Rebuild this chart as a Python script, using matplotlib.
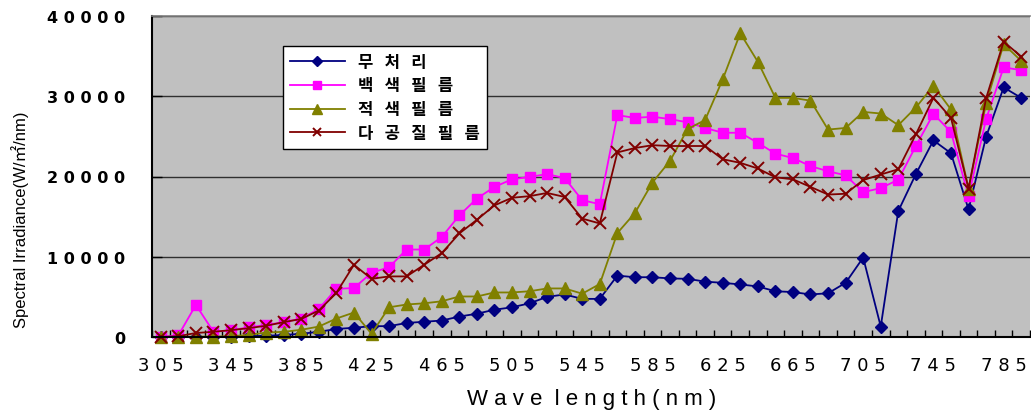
import numpy as np
import matplotlib
matplotlib.use('Agg')
import matplotlib.pyplot as plt
from matplotlib.font_manager import FontProperties

# =============================================================================
# Data
# =============================================================================
wavelength = list(range(305, 796, 10))
series_names = ['무처리', '백색필름', '적색필름', '다공질필름']

untreated = [0, 0, 0, 0, 50, 100, 150, 250, 400, 650,
             1000, 1150, 1350, 1350, 1750, 1900, 2050, 2550, 2900, 3400,
             3700, 4200, 5000, 5300, 4750, 4750, 7650, 7450, 7450, 7300,
             7250, 6900, 6750, 6550, 6300, 5700, 5600, 5300, 5450, 6750,
             9900, 1300, 15700, 20300, 24500, 22900, 15900, 24950, 31100, 29800]
white_film = [0, 200, 4000, 650, 850, 1200, 1500, 1850, 2300, 3500,
              6000, 6100, 8000, 8700, 10900, 10900, 12450, 15150, 17250, 18700,
              19650, 19950, 20300, 19800, 17050, 16550, 27650, 27300, 27450, 27150,
              26750, 26050, 25450, 25450, 24200, 22850, 22300, 21300, 20650, 20150,
              18050, 18550, 19600, 23800, 27800, 25550, 17550, 27150, 33600, 33250]
red_film = [0, 0, 50, 50, 100, 250, 550, 650, 900, 1300,
            2300, 3050, 400, 3700, 4050, 4200, 4450, 5050, 5050, 5550,
            5550, 5700, 6050, 6050, 5400, 6600, 12950, 15450, 19250, 21950,
            25900, 27050, 32100, 37850, 34300, 29800, 29800, 29450, 25850, 26050,
            28050, 27850, 26400, 28600, 31300, 28350, 18500, 29100, 36500, 34400]
porous_film = [0, 100, 500, 650, 850, 1100, 1400, 1850, 2250, 3300,
               5500, 9000, 7250, 7550, 7550, 9000, 10450, 12900, 14600, 16400,
               17350, 17550, 17950, 17450, 14750, 14150, 23000, 23550, 23900, 23800,
               23800, 23800, 22150, 21700, 21000, 19900, 19650, 18700, 17750, 17850,
               19550, 20250, 20900, 25250, 29800, 27300, 18500, 29750, 36800, 34950]

yticks = [0, 10000, 20000, 30000, 40000]

def spaced(s, gap=' '):
    return gap.join(str(s))

# =============================================================================
# Figure
# =============================================================================
W, H = 1031, 414
fig = plt.figure(figsize=(W/100, H/100), dpi=100)
ax = fig.add_axes([152/W, 1-338/H, 878/W, 321/H])
ax.set_facecolor('#C0C0C0')

x = np.arange(len(wavelength))
styles = [dict(color='#000080', marker='D', ms=6.5),
          dict(color='#FF00FF', marker='s', ms=7.5),
          dict(color='#808000', marker='^', ms=8.5),
          dict(color='#800000', marker='x', ms=8, mew=1.4)]
lines = []
for name, vals, st in zip(series_names, [untreated, white_film, red_film, porous_film], styles):
    l, = ax.plot(x, vals, lw=1.3, clip_on=False, label=spaced(name, '   '), **st)
    lines.append(l)

ax.set_xlim(-0.5, len(x)-0.5)
ax.set_ylim(0, 40000)

# x axis: tick marks between categories, labels every 4th
ax.set_xticks(np.arange(-0.5, len(x), 1), minor=True)
ax.set_xticks(x[::4])
ax.set_xticklabels([spaced(w) for w in wavelength[::4]], fontsize=13, family='DejaVu Sans')
ax.tick_params(axis='x', which='major', length=0, pad=14)
ax.tick_params(axis='x', which='minor', direction='in', length=5, width=1)

ax.set_yticks(yticks)
ax.set_yticklabels([spaced(v) for v in yticks], fontsize=11.5, fontweight='bold', family='DejaVu Sans')
ax.tick_params(axis='y', direction='in', length=7, width=1, pad=19)

ax.grid(axis='y', color='#303030', lw=1)
ax.set_axisbelow(True)
for s in ['left', 'bottom']:
    ax.spines[s].set_linewidth(1.5)
    ax.spines[s].set_color('black')
ax.spines['top'].set_color('#808080')
ax.spines['top'].set_linewidth(1.2)
ax.spines['right'].set_visible(False)

fig.text(20/W, 1-220/H, 'Spectral Irradiance(W/㎡/nm)', rotation=90, ha='center', va='center',
         fontsize=12, family=['Liberation Sans', 'Noto Sans CJK KR'])
fig.text(592/W, 1-400/H, 'W a v e  l e n g t h ( n m )', ha='center', va='center',
         fontsize=16, family='Liberation Sans')

leg = ax.legend(handles=lines, loc='upper left', bbox_to_anchor=(131/878, 1-30/321),
                borderaxespad=0, fancybox=False, framealpha=1, edgecolor='black',
                handlelength=3.3, markerscale=0.8, labelspacing=0.35,
                prop=FontProperties(family=['Noto Sans CJK KR', 'DejaVu Sans'], weight='bold', size=12))
leg.get_frame().set_linewidth(1)

fig.savefig('out.png', dpi=100)
